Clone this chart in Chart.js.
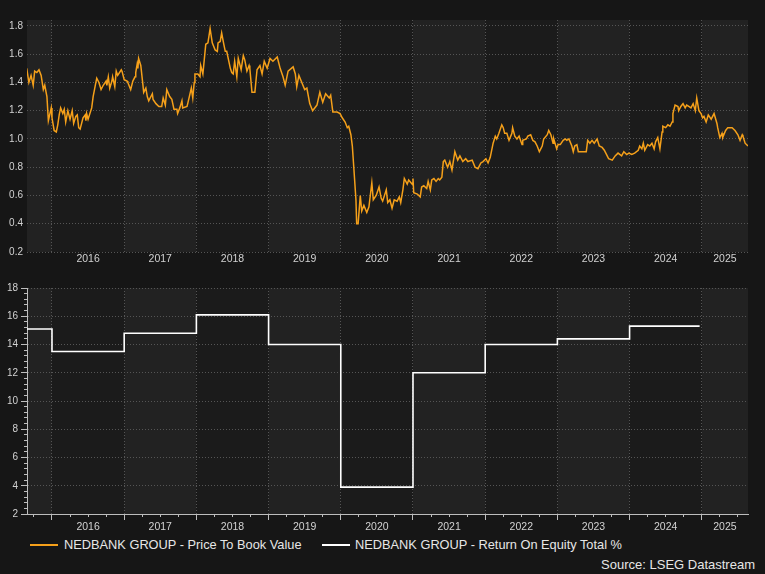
<!DOCTYPE html>
<html><head><meta charset="utf-8">
<script src="https://cdn.jsdelivr.net/npm/chart.js@4.4.1/dist/chart.umd.min.js"></script>
<style>
html,body{margin:0;padding:0;background:#161616;width:765px;height:574px;overflow:hidden;font-family:"Liberation Sans",Arial,sans-serif;}
#c1{position:absolute;left:0;top:0;}
#c2{position:absolute;left:0;top:272px;}
.leg{position:absolute;color:#e6e6e6;font-size:12.8px;line-height:16px;white-space:nowrap;}
.sw{position:absolute;height:2px;width:28px;}
</style></head><body>
<canvas id="c1" width="765" height="272"></canvas>
<canvas id="c2" width="765" height="263"></canvas>
<div class="sw" style="left:30px;top:544px;background:#f5a01a"></div>
<div class="leg" style="left:64px;top:537px">NEDBANK GROUP - Price To Book Value</div>
<div class="sw" style="left:322px;top:544px;background:#ffffff"></div>
<div class="leg" style="left:355px;top:537px">NEDBANK GROUP - Return On Equity Total %</div>
<div class="leg" style="right:10px;top:557px;font-size:13px">Source: LSEG Datastream</div>
<script>
// ---- data ----
const pbDates = [
2015.65,2015.68,2015.71,2015.74,2015.76,2015.79,2015.82,2015.85,2015.88,2015.90,2015.93,2015.95,2015.99,
2016.00,2016.03,2016.06,2016.08,2016.10,2016.12,2016.15,2016.17,2016.19,2016.22,2016.25,2016.28,2016.30,2016.33,2016.35,2016.37,2016.39,2016.43,2016.46,2016.47,2016.48,2016.50,2016.55,2016.57,2016.60,2016.62,2016.65,2016.68,2016.71,2016.75,2016.76,2016.78,2016.80,2016.83,2016.84,2016.87,2016.89,2016.91,2016.96,2016.97,
2017.00,2017.04,2017.05,2017.09,2017.12,2017.15,2017.16,2017.18,2017.19,2017.20,2017.23,2017.26,2017.27,2017.30,2017.32,2017.34,2017.39,2017.40,2017.44,2017.48,2017.52,2017.54,2017.57,2017.59,2017.63,2017.66,2017.69,2017.73,2017.74,2017.77,2017.80,2017.81,2017.87,2017.88,2017.93,2017.95,2017.97,2017.98,
2018.02,2018.05,2018.06,2018.09,2018.13,2018.16,2018.19,2018.22,2018.26,2018.29,2018.30,2018.33,2018.35,2018.38,2018.40,2018.42,2018.47,2018.49,2018.51,2018.53,2018.56,2018.58,2018.62,2018.65,2018.67,2018.70,2018.73,2018.74,2018.77,2018.81,2018.84,2018.88,2018.91,2018.94,2018.98,
2019.02,2019.06,2019.12,2019.16,2019.20,2019.23,2019.27,2019.34,2019.37,2019.39,2019.42,2019.46,2019.50,2019.53,2019.57,2019.61,2019.67,2019.71,2019.75,2019.79,2019.84,2019.86,2019.89,2019.95,2019.99,
2020.02,2020.06,2020.09,2020.11,2020.14,2020.16,2020.18,2020.21,2020.22,2020.24,2020.27,2020.29,2020.32,2020.36,2020.39,2020.43,2020.45,2020.49,2020.53,2020.56,2020.58,2020.63,2020.65,2020.68,2020.71,2020.74,2020.78,2020.81,2020.83,2020.86,2020.88,2020.92,2020.94,2020.99,
2021.00,2021.01,2021.06,2021.10,2021.12,2021.15,2021.19,2021.21,2021.24,2021.26,2021.29,2021.32,2021.35,2021.37,2021.40,2021.42,2021.44,2021.48,2021.51,2021.54,2021.58,2021.62,2021.65,2021.69,2021.73,2021.76,2021.82,2021.86,2021.90,2021.94,2021.97,
2022.01,2022.04,2022.07,2022.11,2022.14,2022.16,2022.19,2022.23,2022.25,2022.27,2022.30,2022.33,2022.37,2022.38,2022.41,2022.44,2022.47,2022.51,2022.52,2022.57,2022.59,2022.63,2022.66,2022.69,2022.72,2022.75,2022.79,2022.81,2022.86,2022.88,2022.91,2022.94,2022.95,2022.99,
2023.01,2023.04,2023.08,2023.11,2023.13,2023.16,2023.20,2023.22,2023.24,2023.27,2023.29,2023.33,2023.35,2023.40,2023.42,2023.45,2023.48,2023.51,2023.55,2023.58,2023.62,2023.65,2023.69,2023.71,2023.76,2023.80,2023.84,2023.89,2023.92,2023.96,2023.99,
2024.03,2024.07,2024.12,2024.14,2024.17,2024.19,2024.21,2024.25,2024.28,2024.31,2024.34,2024.36,2024.39,2024.42,2024.45,2024.46,2024.50,2024.53,2024.56,2024.59,2024.60,2024.63,2024.67,2024.68,2024.71,2024.74,2024.77,2024.79,2024.82,2024.85,2024.88,2024.91,2024.93,2024.96,2024.99,
2025.01,2025.03,2025.06,2025.09,2025.13,2025.17,2025.21,2025.22,2025.25,2025.28,2025.29,2025.33,2025.36,2025.42,2025.46,2025.50,2025.53,2025.56,2025.57,2025.60,2025.64
];
const pbValues = [
1.50,1.40,1.45,1.38,1.48,1.47,1.49,1.45,1.35,1.38,1.30,1.13,1.22,
1.15,1.06,1.05,1.10,1.17,1.22,1.18,1.21,1.12,1.20,1.14,1.20,1.11,1.16,1.17,1.08,1.07,1.15,1.17,1.13,1.18,1.14,1.22,1.30,1.38,1.43,1.40,1.35,1.38,1.41,1.38,1.44,1.36,1.41,1.44,1.37,1.48,1.45,1.49,1.48,
1.42,1.41,1.40,1.35,1.41,1.44,1.47,1.53,1.50,1.57,1.52,1.38,1.33,1.36,1.30,1.27,1.32,1.28,1.25,1.23,1.23,1.29,1.24,1.35,1.30,1.28,1.21,1.21,1.18,1.22,1.27,1.22,1.23,1.25,1.36,1.29,1.40,1.46,
1.46,1.44,1.52,1.46,1.67,1.68,1.78,1.68,1.63,1.62,1.68,1.69,1.75,1.67,1.62,1.62,1.50,1.47,1.46,1.55,1.44,1.57,1.49,1.59,1.56,1.48,1.52,1.50,1.33,1.33,1.49,1.52,1.46,1.55,1.50,
1.57,1.55,1.58,1.50,1.44,1.38,1.48,1.51,1.46,1.37,1.45,1.40,1.35,1.36,1.25,1.20,1.24,1.33,1.26,1.32,1.29,1.31,1.19,1.19,1.18,
1.15,1.12,1.08,1.09,1.03,0.95,0.80,0.57,0.40,0.40,0.60,0.49,0.53,0.48,0.52,0.69,0.57,0.60,0.66,0.58,0.56,0.64,0.55,0.57,0.51,0.57,0.56,0.59,0.55,0.64,0.72,0.68,0.71,0.68,
0.72,0.62,0.61,0.59,0.66,0.67,0.65,0.70,0.64,0.71,0.72,0.70,0.72,0.71,0.73,0.84,0.85,0.80,0.84,0.78,0.91,0.85,0.88,0.84,0.86,0.84,0.85,0.80,0.79,0.83,0.84,
0.86,0.83,0.87,0.97,1.02,1.00,1.04,1.10,1.08,1.04,1.04,0.99,1.04,1.08,1.02,1.00,1.02,0.96,0.99,1.00,1.02,1.03,0.99,0.98,0.95,0.91,0.95,1.00,1.03,1.06,1.03,0.97,1.00,0.93,
0.96,0.96,0.99,1.00,0.99,1.00,0.95,0.91,0.95,0.96,0.91,0.91,0.91,0.91,0.99,0.97,0.99,0.97,1.00,0.95,0.94,0.92,0.88,0.86,0.85,0.88,0.90,0.88,0.91,0.89,0.90,
0.89,0.90,0.92,0.95,0.93,0.97,0.92,0.96,0.95,0.97,0.93,0.98,1.01,0.93,1.05,1.09,1.08,1.10,1.09,1.12,1.18,1.24,1.23,1.20,1.23,1.25,1.22,1.24,1.23,1.22,1.25,1.20,1.29,1.20,1.18,
1.15,1.16,1.12,1.17,1.14,1.18,1.11,1.08,1.01,1.04,1.01,1.06,1.08,1.08,1.06,1.03,0.99,1.03,1.02,0.97,0.95
];
const roeDates = [2015.654, 2016, 2017, 2018, 2019, 2020, 2021, 2022, 2023, 2024, 2024.97];
const roeValues = [15.1, 13.5, 14.8, 16.1, 14.0, 3.9, 12.0, 14.0, 14.4, 15.3, 15.3];
const yearTicks = [2016, 2017, 2018, 2019, 2020, 2021, 2022, 2023, 2024, 2025];
const topYTicks = [0.2, 0.4, 0.6, 0.8, 1.0, 1.2, 1.4, 1.6, 1.8];
const bottomYTicks = [2, 4, 6, 8, 10, 12, 14, 16, 18];
const X_MIN = 2015.654, X_MAX = 2025.64;

// ---- style ----
const ORANGE = '#f5a01a', WHITE = '#ffffff';
const GRID = '#555555', LABEL = '#d2d2d2', AXIS = '#bdbdbd';
const BAND_LIGHT = '#222222', BAND_DARK = '#1b1b1b';
Chart.defaults.font.family = '"Liberation Sans", Arial, sans-serif';

const isYear = v => Math.abs(v - Math.round(v)) < 1e-6;
function labelTicks(min, max) {
  const t = [];
  yearTicks.forEach(y => {
    if (y >= min && y < max) {
      t.push({value: y});
      t.push({value: (y + Math.min(y + 1, max)) / 2});
    }
  });
  return t;
}
const labelCb = v => isYear(v) ? '' : String(Math.floor(v));

const bands = {
  id: 'bands',
  beforeDraw(chart) {
    const {ctx, chartArea: a} = chart;
    const x = chart.scales.x;
    ctx.save();
    for (let y = Math.floor(x.min); y < x.max; y++) {
      const p0 = x.getPixelForValue(Math.max(y, x.min));
      const p1 = x.getPixelForValue(Math.min(y + 1, x.max));
      ctx.fillStyle = (y % 2) ? BAND_LIGHT : BAND_DARK;
      ctx.fillRect(p0, a.top, p1 - p0, a.bottom - a.top);
    }
    ctx.restore();
  }
};

const common = {
  responsive: false, animation: false, events: [],
  plugins: {legend: {display: false}, tooltip: {enabled: false}}
};

new Chart(document.getElementById('c1'), {
  type: 'line',
  data: {datasets: [{
    label: 'NEDBANK GROUP - Price To Book Value',
    data: pbDates.map((d, i) => ({x: d, y: pbValues[i]})),
    borderColor: ORANGE, backgroundColor: ORANGE, borderWidth: 1.5,
    pointRadius: 0, tension: 0, fill: false, xAxisID: 'x', yAxisID: 'y'
  }]},
  options: Object.assign({}, common, {
    layout: {padding: {top: 20, right: 17, left: 0, bottom: 0}},
    scales: {
      x: {
        type: 'linear', min: X_MIN, max: X_MAX,
        afterBuildTicks: s => { s.ticks = labelTicks(X_MIN, X_MAX); },
        afterFit: s => { s.height = 20; },
        ticks: {autoSkip: false, maxRotation: 0, minRotation: 0, padding: 1, color: LABEL, font: {size: 10.5}, callback: labelCb},
        grid: {color: c => (c.tick && isYear(c.tick.value)) ? GRID : 'transparent', drawTicks: false, lineWidth: 1},
        border: {display: false, dash: [1, 2]}
      },
      y: {
        type: 'linear', min: 0.2, max: 1.842,
        afterBuildTicks: s => { s.ticks = topYTicks.map(v => ({value: v})); },
        afterFit: s => { s.width = 27; },
        ticks: {padding: 4, color: LABEL, font: {size: 10}, callback: v => v.toFixed(1)},
        grid: {color: GRID, drawTicks: false, lineWidth: 1},
        border: {display: false, dash: [1, 2]}
      }
    }
  }),
  plugins: [bands]
});

const quarterTicks = [];
for (let y = Math.floor(X_MIN); y <= Math.ceil(X_MAX); y++) {
  [0, 0.25, 0.5, 0.75].forEach(q => { const v = y + q; if (v >= X_MIN && v <= X_MAX) quarterTicks.push({value: v}); });
}
const minorY = [];
for (let i = 0; i <= 40; i++) minorY.push({value: 2 + i * 0.4});

new Chart(document.getElementById('c2'), {
  type: 'line',
  data: {datasets: [{
    label: 'NEDBANK GROUP - Return On Equity Total %',
    data: roeDates.map((d, i) => ({x: d, y: roeValues[i]})),
    borderColor: WHITE, backgroundColor: WHITE, borderWidth: 1.6,
    pointRadius: 0, stepped: 'before', fill: false, xAxisID: 'x', yAxisID: 'y'
  }]},
  options: Object.assign({}, common, {
    layout: {padding: {top: 16, right: 17, left: 0, bottom: 0}},
    scales: {
      x: {
        type: 'linear', min: X_MIN, max: X_MAX,
        afterBuildTicks: s => { s.ticks = labelTicks(X_MIN, X_MAX); },
        afterFit: s => { s.height = 21; },
        ticks: {autoSkip: false, maxRotation: 0, minRotation: 0, padding: 1, color: LABEL, font: {size: 10.5}, callback: labelCb},
        grid: {
          color: c => (c.tick && isYear(c.tick.value)) ? GRID : 'transparent',
          tickColor: c => (c.tick && isYear(c.tick.value)) ? AXIS : 'transparent',
          tickLength: 6, drawTicks: true, lineWidth: 1
        },
        border: {display: true, color: AXIS, width: 1, dash: [1, 2]}
      },
      xm: {
        type: 'linear', axis: 'x', min: X_MIN, max: X_MAX, position: {y: 2},
        afterBuildTicks: s => { s.ticks = quarterTicks.slice(); },
        ticks: {display: false, autoSkip: false},
        grid: {drawOnChartArea: false, tickLength: 3, tickColor: AXIS, color: AXIS},
        border: {display: false}
      },
      y: {
        type: 'linear', min: 2, max: 18,
        afterBuildTicks: s => { s.ticks = bottomYTicks.map(v => ({value: v})); },
        afterFit: s => { s.width = 27; },
        ticks: {padding: 3, color: LABEL, font: {size: 10}},
        grid: {color: GRID, tickColor: AXIS, tickLength: 6, lineWidth: 1},
        border: {display: true, color: AXIS, width: 1, dash: [1, 2]}
      },
      ym: {
        type: 'linear', axis: 'y', min: 2, max: 18, position: {x: X_MIN},
        afterBuildTicks: s => { s.ticks = minorY.slice(); },
        ticks: {display: false, autoSkip: false},
        grid: {drawOnChartArea: false, tickLength: 3, tickColor: AXIS, color: AXIS},
        border: {display: false}
      }
    }
  }),
  plugins: [bands]
});
</script>
</body></html>
